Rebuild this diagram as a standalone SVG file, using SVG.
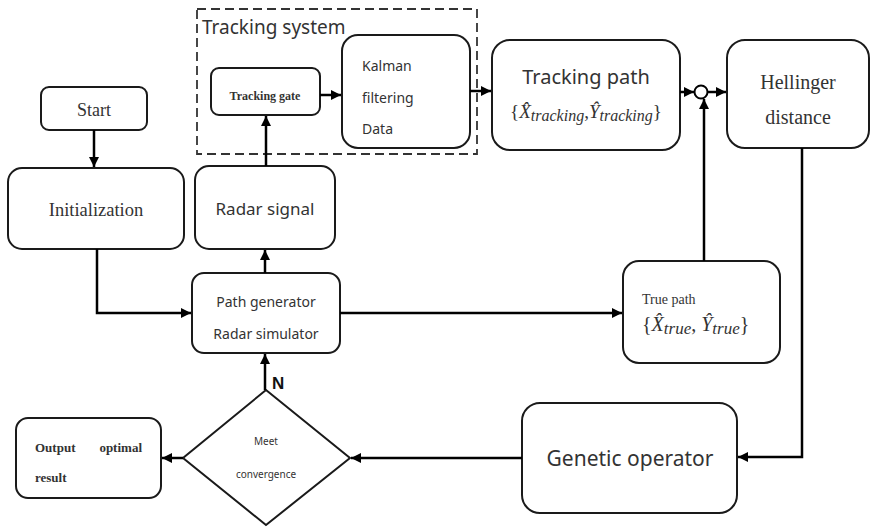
<svg xmlns="http://www.w3.org/2000/svg" width="871" height="527" viewBox="0 0 871 527">
<defs>
<marker id="ah" viewBox="0 0 10 10" refX="10" refY="5" markerWidth="10" markerHeight="10" markerUnits="userSpaceOnUse" orient="auto">
<path d="M0,0 L10,5 L0,10 z" fill="#000"/>
</marker>
</defs>
<style>
.box{fill:#fff;stroke:#1a1a1a;stroke-width:2}
.ln{fill:none;stroke:#000;stroke-width:2.5;marker-end:url(#ah)}
.sans{font-family:"Noto Sans","Open Sans","Liberation Sans",sans-serif;fill:#333}
.serif{font-family:"Liberation Serif","DejaVu Serif",serif;fill:#333}
.math{font-family:"Liberation Serif","DejaVu Serif",serif;font-style:italic;fill:#333}
</style>
<rect width="871" height="527" fill="#fff"/>

<g id="tracking-system">
<rect x="197" y="9" width="280" height="145" fill="none" stroke="#333" stroke-width="1.8" stroke-dasharray="9,5"/>
<text x="202" y="34" class="sans" font-size="19">Tracking system</text>
</g>

<g id="start">
<rect class="box" x="41" y="87" width="106" height="43" rx="8"/>
<text x="94" y="116" class="serif" font-size="18" text-anchor="middle">Start</text>
</g>

<g id="initialization">
<rect class="box" x="8" y="168" width="176" height="81" rx="14"/>
<text x="96" y="216" class="serif" font-size="18.5" text-anchor="middle">Initialization</text>
</g>

<g id="radar-signal">
<rect class="box" x="195" y="166" width="140" height="83" rx="14"/>
<text x="265" y="215" class="sans" font-size="17" text-anchor="middle">Radar signal</text>
</g>

<g id="path-generator">
<rect class="box" x="192" y="273" width="148" height="80" rx="12"/>
<text x="266" y="307" class="sans" font-size="14" text-anchor="middle">Path generator</text>
<text x="266" y="339" class="sans" font-size="14" text-anchor="middle">Radar simulator</text>
</g>

<g id="tracking-gate">
<rect class="box" x="211" y="68" width="109" height="47" rx="8"/>
<text x="265" y="100" class="serif" font-size="12" font-weight="bold" text-anchor="middle">Tracking gate</text>
</g>

<g id="kalman">
<rect class="box" x="342" y="35" width="128" height="113" rx="16"/>
<text x="362" y="71" class="sans" font-size="14">Kalman</text>
<text x="362" y="103" class="sans" font-size="14">filtering</text>
<text x="362" y="134" class="sans" font-size="14">Data</text>
</g>

<g id="tracking-path">
<rect class="box" x="492" y="40" width="188" height="110" rx="18"/>
<text x="586" y="84" class="sans" font-size="20" text-anchor="middle">Tracking path</text>
<text x="586" y="118" class="math" font-size="19" text-anchor="middle"><tspan font-style="normal">{</tspan>X̂<tspan font-size="16" dy="3">tracking</tspan><tspan dy="-3" font-style="normal">,</tspan>Ŷ<tspan font-size="16" dy="3">tracking</tspan><tspan dy="-3" font-style="normal">}</tspan></text>
</g>

<g id="sum">
<circle cx="701" cy="92" r="6.5" fill="#fff" stroke="#000" stroke-width="2"/>
</g>

<g id="hellinger">
<rect class="box" x="727" y="40" width="142" height="108" rx="18"/>
<text x="798" y="89" class="serif" font-size="20" text-anchor="middle">Hellinger</text>
<text x="798" y="124" class="serif" font-size="20" text-anchor="middle">distance</text>
</g>

<g id="true-path">
<rect class="box" x="623" y="261" width="157" height="102" rx="16"/>
<text x="642" y="304" class="serif" font-size="14">True path</text>
<text x="642" y="331" class="math" font-size="20"><tspan font-style="normal">{</tspan>X̂<tspan font-size="17" dy="3">true</tspan><tspan dy="-3" font-style="normal">,</tspan> Ŷ<tspan font-size="17" dy="3">true</tspan><tspan dy="-3" font-style="normal">}</tspan></text>
</g>

<g id="genetic-operator">
<rect class="box" x="522" y="403" width="215" height="110" rx="18"/>
<text x="630" y="466" class="sans" font-size="21" text-anchor="middle">Genetic operator</text>
</g>

<g id="meet-convergence">
<polygon class="box" points="266,390 350,458 266,525 183,458"/>
<text x="266" y="445" class="sans" font-size="10" text-anchor="middle" fill="#555">Meet</text>
<text x="266" y="478" class="sans" font-size="10" text-anchor="middle" fill="#555">convergence</text>
</g>

<g id="output">
<rect class="box" x="16" y="418" width="145" height="80" rx="12"/>
<text x="35" y="452" class="serif" font-size="13" font-weight="bold">Output</text>
<text x="142" y="452" class="serif" font-size="13" font-weight="bold" text-anchor="end">optimal</text>
<text x="35" y="482" class="serif" font-size="13" font-weight="bold">result</text>
</g>

<g id="connectors">
<line class="ln" x1="94" y1="130" x2="94" y2="167"/>
<polyline class="ln" points="97,249 97,313 191,313"/>
<line class="ln" x1="265" y1="273" x2="265" y2="250"/>
<line class="ln" x1="266" y1="166" x2="266" y2="116"/>
<line class="ln" x1="320" y1="95" x2="341" y2="95"/>
<line class="ln" x1="470" y1="91" x2="491" y2="91"/>
<line class="ln" x1="680" y1="92" x2="694" y2="92"/>
<line class="ln" x1="708" y1="92" x2="726" y2="92"/>
<line class="ln" x1="704" y1="261" x2="704" y2="99"/>
<line class="ln" x1="340" y1="313" x2="622" y2="313"/>
<polyline class="ln" points="802,148 802,457 738,457"/>
<line class="ln" x1="522" y1="458" x2="351" y2="458"/>
<line class="ln" x1="265" y1="390" x2="265" y2="354"/>
<line class="ln" x1="183" y1="458" x2="162" y2="458"/>
<text x="272" y="389" font-family="'Liberation Sans',Arial,sans-serif" font-size="17" font-weight="bold" fill="#111">N</text>
</g>
</svg>
